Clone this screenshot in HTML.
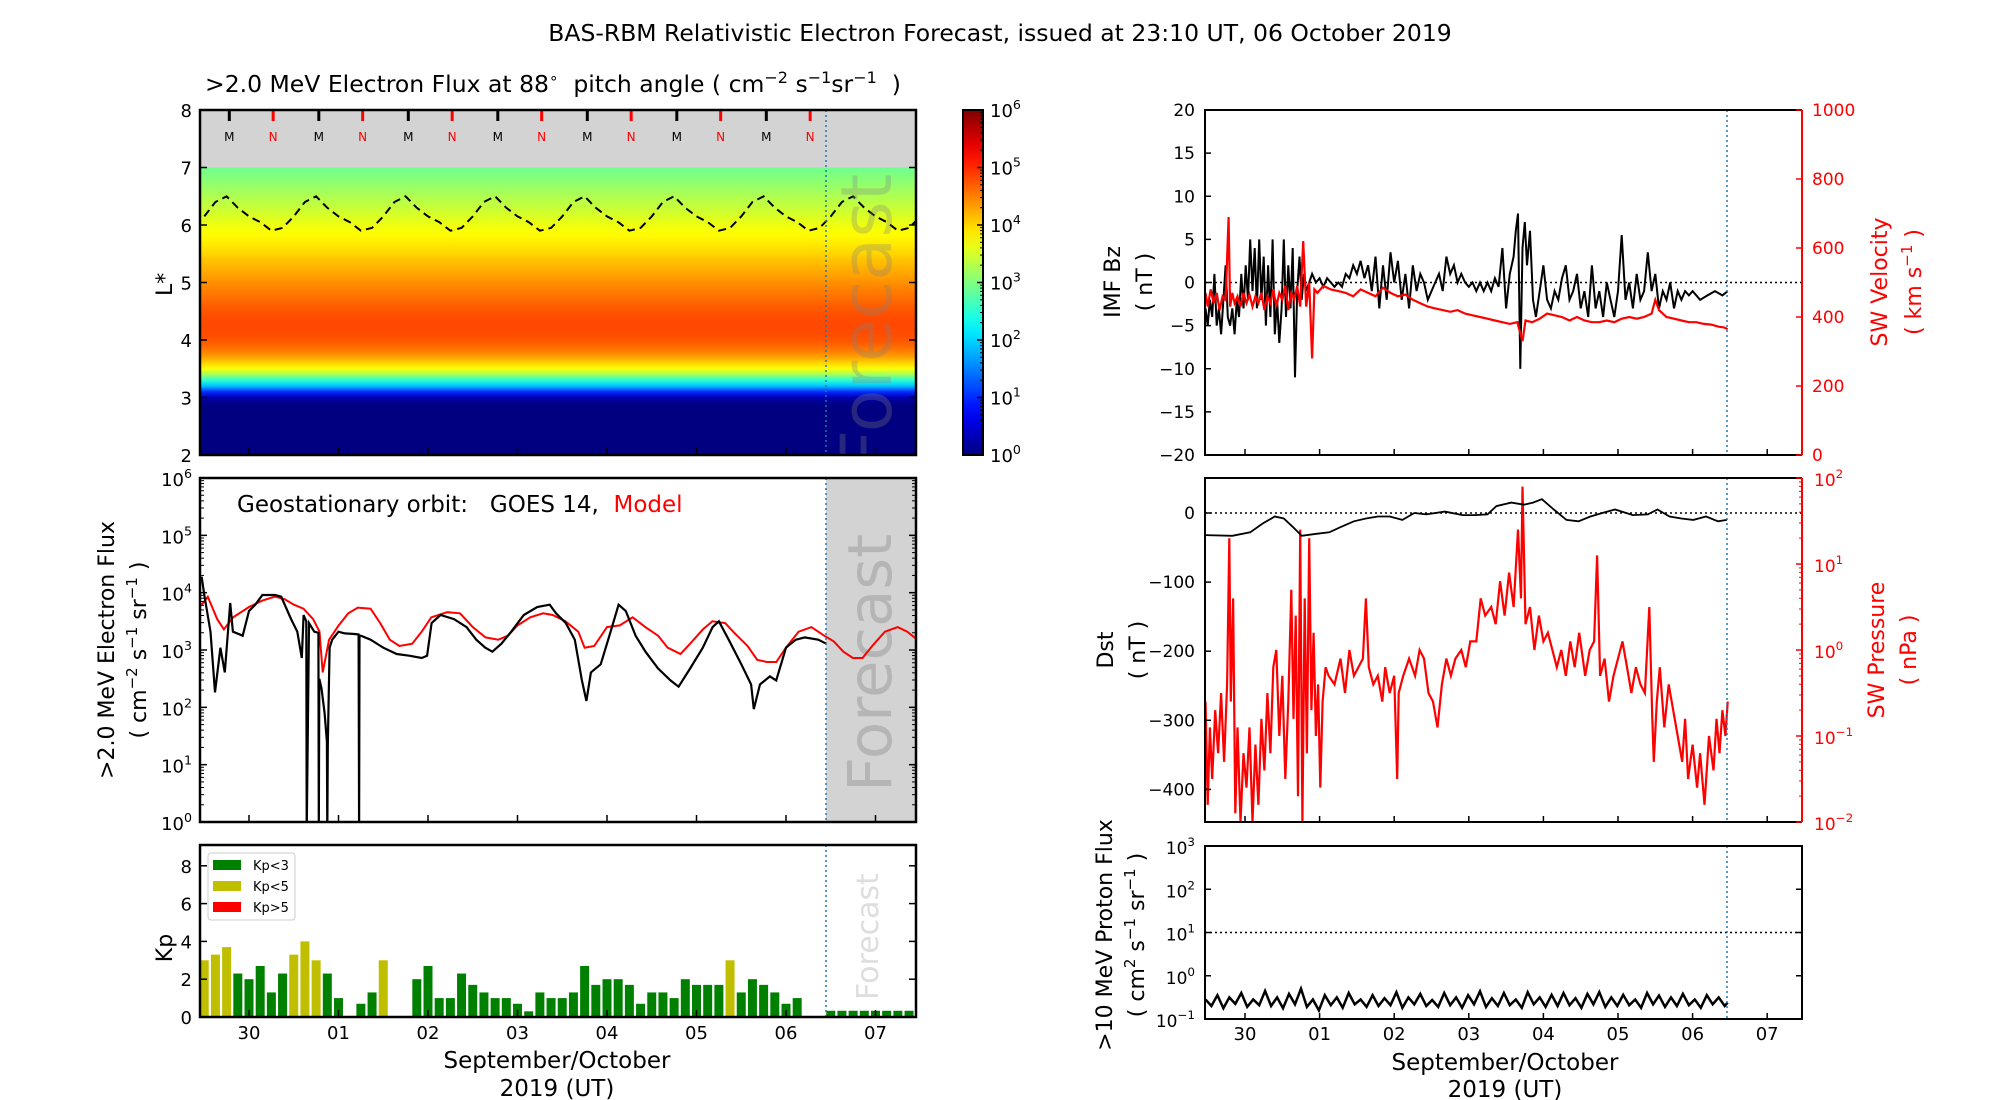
<!DOCTYPE html>
<html><head><meta charset="utf-8">
<style>
html,body{margin:0;padding:0;background:#fff;}
svg{display:block;font-family:"DejaVu Sans","Liberation Sans",sans-serif;}
</style></head>
<body>
<svg id="chart" width="2000" height="1100" viewBox="0 0 2000 1100" xmlns="http://www.w3.org/2000/svg">
<defs>
<linearGradient id="jetbar" x1="0" y1="1" x2="0" y2="0"></linearGradient>
<linearGradient id="heatgrad" x1="0" y1="1" x2="0" y2="0"></linearGradient>
<clipPath id="cHeat"><rect x="200" y="110" width="716" height="345"/></clipPath>
<clipPath id="cFlux"><rect x="200" y="478" width="716" height="344"/></clipPath>
<clipPath id="cKp"><rect x="200" y="845" width="716" height="172"/></clipPath>
<clipPath id="cBz"><rect x="1205" y="110" width="597" height="345"/></clipPath>
<clipPath id="cDst"><rect x="1205" y="478" width="597" height="344"/></clipPath>
<clipPath id="cPr"><rect x="1205" y="846" width="597" height="173"/></clipPath>
</defs>
<g id="root"></g>
</svg>
<script>
// ---------------- data ----------------
const dayTicks = ["30","01","02","03","04","05","06","07"];
const heatL = [2.0,2.1,2.2,2.3,2.4,2.5,2.6,2.7,2.8,2.9,3.0,3.1,3.2,3.3,3.4,3.5,3.6,3.7,3.8,3.9,4.0,4.1,4.2,4.3,4.4,4.5,4.6,4.7,4.8,4.9,5.0,5.1,5.2,5.3,5.4,5.5,5.6,5.7,5.8,5.9,6.0,6.1,6.2,6.3,6.4,6.5,6.6,6.7,6.8,6.9,7.0];
const heatLogFlux = [0,0,0,0,0,0,0,0,0,0.05,0.3,1.0,1.9,2.5,3.2,3.7,4.0,4.3,4.5,4.65,4.75,4.8,4.82,4.82,4.8,4.75,4.7,4.62,4.55,4.48,4.4,4.32,4.25,4.17,4.1,4.0,3.92,3.85,3.78,3.72,3.65,3.58,3.5,3.42,3.35,3.28,3.2,3.12,3.05,2.98,2.9];
const lastT = [-0.5,-0.375,-0.25,-0.125,0,0.125,0.25,0.375,0.5,0.625,0.75,0.875,1,1.125,1.25,1.375,1.5,1.625,1.75,1.875,2,2.125,2.25,2.375,2.5,2.625,2.75,2.875,3,3.125,3.25,3.375,3.5,3.625,3.75,3.875,4,4.125,4.25,4.375,4.5,4.625,4.75,4.875,5,5.125,5.25,5.375,5.5,5.625,5.75,5.875,6,6.125,6.25,6.375,6.5,6.625,6.75,6.875,7,7.125,7.25,7.375,7.5];
const lastL = [6.15,6.4,6.5,6.3,6.15,6.05,5.9,5.95,6.15,6.4,6.5,6.3,6.15,6.05,5.9,5.95,6.15,6.4,6.5,6.3,6.15,6.05,5.9,5.95,6.15,6.4,6.5,6.3,6.15,6.05,5.9,5.95,6.15,6.4,6.5,6.3,6.15,6.05,5.9,5.95,6.15,6.4,6.5,6.3,6.15,6.05,5.9,5.95,6.15,6.4,6.5,6.3,6.15,6.05,5.9,5.95,6.15,6.4,6.5,6.3,6.15,6.05,5.9,5.95,6.15];
const midnightT = [-0.22,0.78,1.78,2.78,3.78,4.78,5.78];
const noonT = [0.27,1.27,2.27,3.27,4.27,5.27,6.27];

const goesT = [-0.53,-0.5,-0.43,-0.38,-0.32,-0.27,-0.21,-0.18,-0.07,0.0,0.07,0.15,0.29,0.36,0.47,0.54,0.59,0.61,0.64,0.645,0.67,0.73,0.775,0.78,0.785,0.81,0.845,0.87,0.875,0.88,0.9,0.93,1.0,1.07,1.18,1.225,1.23,1.235,1.25,1.36,1.5,1.65,1.79,1.93,1.99,2.04,2.14,2.29,2.43,2.54,2.64,2.72,2.82,2.93,3.07,3.22,3.36,3.43,3.54,3.64,3.72,3.77,3.82,3.93,4.04,4.13,4.21,4.32,4.43,4.57,4.71,4.8,4.93,5.07,5.18,5.25,5.36,5.5,5.61,5.64,5.71,5.82,5.89,6.0,6.11,6.21,6.36,6.45];
const goesLog = [4.28,3.96,3.32,2.26,3.04,2.61,3.82,3.32,3.25,3.68,3.79,3.96,3.96,3.93,3.54,3.32,2.86,3.61,3.5,-0.5,3.47,3.32,3.3,-0.5,2.5,2.33,1.9,1.4,-0.5,1.33,3.04,3.18,3.32,3.29,3.28,3.27,-0.5,3.25,3.25,3.18,3.04,2.93,2.9,2.86,2.9,3.47,3.61,3.54,3.4,3.18,3.04,2.97,3.11,3.32,3.61,3.75,3.79,3.64,3.47,3.18,2.47,2.11,2.61,2.75,3.32,3.79,3.68,3.25,2.97,2.68,2.47,2.36,2.68,3.04,3.4,3.5,3.18,2.75,2.4,1.97,2.4,2.54,2.47,3.04,3.18,3.22,3.18,3.11];
const modelT = [-0.53,-0.46,-0.355,-0.28,-0.176,0.0,0.145,0.288,0.395,0.502,0.609,0.716,0.788,0.823,0.895,1.002,1.109,1.216,1.359,1.466,1.573,1.68,1.823,1.93,2.037,2.215,2.358,2.501,2.643,2.786,2.893,3.0,3.143,3.286,3.393,3.536,3.679,3.75,3.857,4.0,4.143,4.286,4.428,4.571,4.678,4.821,4.928,5.071,5.178,5.321,5.428,5.571,5.678,5.785,5.892,5.999,6.141,6.284,6.427,6.534,6.641,6.748,6.855,6.963,7.105,7.248,7.355,7.45];
const modelLog = [3.79,3.93,3.54,3.36,3.57,3.75,3.86,3.93,3.89,3.79,3.72,3.54,3.32,2.61,3.18,3.43,3.64,3.74,3.72,3.47,3.18,3.07,3.11,3.32,3.57,3.66,3.64,3.4,3.22,3.18,3.25,3.43,3.57,3.64,3.61,3.5,3.32,3.04,3.07,3.4,3.43,3.57,3.4,3.25,3.04,2.93,3.11,3.36,3.5,3.47,3.29,3.07,2.83,2.79,2.79,3.04,3.32,3.4,3.25,3.15,2.97,2.86,2.86,3.07,3.32,3.4,3.32,3.2];

const kpValues = [3.0,3.3,3.7,2.3,2.0,2.7,1.3,2.3,3.3,4.0,3.0,2.3,1.0,0,0.7,1.3,3.0,0,0,2.0,2.7,1.0,1.0,2.3,1.7,1.3,1.0,1.0,0.7,0.3,1.3,1.0,1.0,1.3,2.7,1.7,2.0,2.0,1.7,0.7,1.3,1.3,1.0,2.0,1.7,1.7,1.7,3.0,1.3,2.0,1.7,1.3,0.7,1.0,0];
const kpForecast = [0.33,0.33,0.33,0.33,0.33,0.33,0.33,0.33,0.33];
const kpLabels = ["0","2","4","6","8"];

const bzT = [-0.53,-0.5,-0.47,-0.44,-0.41,-0.38,-0.35,-0.32,-0.29,-0.26,-0.23,-0.2,-0.17,-0.14,-0.11,-0.08,-0.05,-0.02,0.01,0.04,0.07,0.1,0.13,0.16,0.19,0.22,0.25,0.28,0.31,0.34,0.37,0.4,0.43,0.46,0.49,0.52,0.55,0.58,0.61,0.64,0.67,0.7,0.73,0.76,0.79,0.82,0.86,0.9,0.95,1.0,1.05,1.1,1.15,1.2,1.25,1.3,1.35,1.4,1.45,1.5,1.55,1.6,1.65,1.7,1.75,1.8,1.85,1.9,1.95,2.0,2.05,2.1,2.15,2.2,2.25,2.3,2.35,2.4,2.45,2.5,2.55,2.6,2.65,2.7,2.75,2.8,2.85,2.9,2.95,3.0,3.05,3.1,3.15,3.2,3.25,3.3,3.35,3.4,3.45,3.5,3.55,3.6,3.63,3.66,3.69,3.72,3.75,3.78,3.82,3.86,3.9,3.95,4.0,4.05,4.1,4.15,4.2,4.25,4.3,4.35,4.4,4.45,4.5,4.55,4.6,4.65,4.7,4.75,4.8,4.85,4.9,4.95,5.0,5.05,5.1,5.15,5.2,5.25,5.3,5.35,5.4,5.45,5.5,5.55,5.6,5.65,5.7,5.75,5.8,5.85,5.9,5.95,6.0,6.1,6.2,6.3,6.4,6.47];
const bzV = [-3,-5,-2,-4,1,-5,-3,-6,-2,2,-4,-5,-3,-6,-2,-4,1,-3,2,-2,5,-1,4,-3,5,-2,3,-5,2,-4,5,-6,-2,-7,-3,5,-4,2,-3,4,-11,-1,3,-2,1,-1,0,1,0,0.5,-0.5,0.5,0,-0.5,0,-0.5,1,0.5,2,1,2.5,0.5,2,-1,3,-3,2,-2,3.5,0,2.5,-2,1,-3,2,-1,1,0,-2,-1,0,1,-1,3,1,2,0,1,0,-0.5,0,-1,0,-1,0,-1,0.5,-0.5,4,-3,1,3,6,8,-10,4,7,2,6,-2,-4,-1,2,-2,-3,-1,-2,0.5,2,-2,-1,1,-3,-1,-4,2,-3,-1,-4,0,-2,-4,-1,5.5,-2,0,-3,1,-2,-1,3.5,-1,1,-3,-1,-2,0,-3,-1,-2,-1,-1.5,-1,-2,-1.5,-1,-1.5,-1];
const velT = [-0.53,-0.5,-0.46,-0.42,-0.38,-0.34,-0.3,-0.26,-0.22,-0.2,-0.17,-0.14,-0.1,-0.06,-0.02,0.02,0.06,0.1,0.14,0.18,0.22,0.26,0.3,0.34,0.38,0.42,0.46,0.5,0.54,0.58,0.62,0.66,0.7,0.74,0.78,0.82,0.86,0.9,0.93,0.97,1.05,1.15,1.25,1.35,1.45,1.55,1.65,1.75,1.85,1.95,2.05,2.15,2.25,2.35,2.45,2.55,2.65,2.75,2.85,2.95,3.05,3.15,3.25,3.35,3.45,3.55,3.65,3.72,3.76,3.85,3.95,4.05,4.15,4.25,4.35,4.45,4.55,4.65,4.75,4.85,4.95,5.05,5.15,5.25,5.35,5.45,5.5,5.55,5.65,5.75,5.85,5.95,6.05,6.15,6.25,6.35,6.42,6.47];
const velV = [470,430,480,440,470,420,460,450,690,430,470,440,460,430,470,440,465,430,460,440,470,420,460,440,480,430,470,450,490,420,470,450,490,430,620,430,500,280,480,470,490,480,475,470,460,480,470,460,485,470,460,465,450,440,430,425,420,415,420,410,405,400,395,390,385,380,385,330,390,385,395,410,405,400,390,400,390,385,385,390,385,395,400,395,400,410,450,420,400,395,390,385,385,380,378,372,370,365];

const dstT = [-0.53,-0.17,0.07,0.24,0.4,0.52,0.64,0.76,0.97,1.13,1.29,1.46,1.62,1.78,1.94,2.11,2.27,2.43,2.68,2.92,3.08,3.25,3.37,3.57,3.74,3.86,3.98,4.14,4.31,4.47,4.63,4.79,4.96,5.2,5.4,5.53,5.69,5.85,6.01,6.18,6.34,6.46];
const dstV = [-32,-33,-28,-15,-5,-8,-20,-33,-30,-28,-20,-12,-8,-5,-5,-10,0,-2,2,-3,-3,-2,10,15,12,15,20,5,-10,-12,-5,0,5,-3,-2,5,-5,-8,-10,-5,-12,-10];
const presT = [-0.53,-0.5,-0.47,-0.44,-0.4,-0.36,-0.32,-0.28,-0.24,-0.21,-0.19,-0.16,-0.13,-0.1,-0.06,-0.02,0.02,0.06,0.1,0.14,0.18,0.22,0.26,0.3,0.34,0.38,0.42,0.46,0.5,0.54,0.58,0.62,0.65,0.68,0.71,0.74,0.77,0.8,0.83,0.86,0.89,0.92,0.95,0.98,1.01,1.04,1.08,1.12,1.2,1.28,1.34,1.4,1.46,1.52,1.58,1.62,1.66,1.72,1.78,1.84,1.88,1.94,2.0,2.04,2.06,2.12,2.2,2.28,2.34,2.4,2.46,2.52,2.58,2.64,2.7,2.76,2.82,2.9,2.96,3.02,3.1,3.16,3.22,3.3,3.36,3.42,3.48,3.54,3.6,3.66,3.7,3.72,3.76,3.82,3.88,3.94,4.0,4.06,4.12,4.18,4.24,4.3,4.36,4.42,4.48,4.56,4.62,4.68,4.72,4.76,4.82,4.88,4.94,5.0,5.06,5.12,5.18,5.24,5.3,5.36,5.42,5.46,5.48,5.52,5.56,5.62,5.68,5.74,5.8,5.86,5.9,5.94,6.0,6.06,6.1,6.16,6.22,6.28,6.32,6.36,6.4,6.44,6.47];
const presLog = [-0.6,-1.8,-0.9,-1.5,-0.7,-1.2,-0.5,-1.3,-0.4,1.3,-0.6,0.6,-1.9,-0.9,-2,-1.2,-1.6,-0.9,-2,-1.1,-1.8,-0.8,-1.4,-0.5,-1.2,-0.2,0.0,-1.0,-0.3,-1.5,-0.6,0.7,-0.8,0.4,-1.7,1.4,-2,0.6,-1.2,1.3,-0.7,0.2,-1.0,-0.4,-1.6,-0.6,-0.2,-0.3,-0.4,-0.1,-0.5,0.0,-0.3,-0.2,-0.1,0.6,-0.2,-0.4,-0.3,-0.6,-0.2,-0.5,-0.3,-1.5,-0.5,-0.3,-0.1,-0.3,0.0,-0.1,-0.5,-0.6,-0.9,-0.4,-0.1,-0.3,-0.1,0.0,-0.2,0.1,0.1,0.6,0.4,0.5,0.3,0.8,0.4,0.9,0.5,1.4,0.6,1.9,0.3,0.5,0.0,0.4,0.1,0.2,0.0,-0.2,0.0,-0.3,0.1,-0.2,0.2,-0.3,0.0,0.1,1.1,-0.3,-0.1,-0.6,-0.3,-0.1,0.1,-0.2,-0.5,-0.2,-0.4,-0.5,0.5,-0.8,-1.3,-0.6,-0.2,-0.9,-0.4,-0.7,-1.0,-1.3,-0.8,-1.5,-1.1,-1.6,-1.2,-1.8,-1.0,-1.4,-0.8,-1.2,-0.7,-1.0,-0.6];
const protonT = [-0.53,-0.45,-0.37,-0.29,-0.21,-0.13,-0.05,0.03,0.11,0.19,0.27,0.35,0.43,0.51,0.59,0.67,0.75,0.83,0.91,0.99,1.07,1.15,1.23,1.31,1.39,1.47,1.55,1.63,1.71,1.79,1.87,1.95,2.03,2.11,2.19,2.27,2.35,2.43,2.51,2.59,2.67,2.75,2.83,2.91,2.99,3.07,3.15,3.23,3.31,3.39,3.47,3.55,3.63,3.71,3.79,3.87,3.95,4.03,4.11,4.19,4.27,4.35,4.43,4.51,4.59,4.67,4.75,4.83,4.91,4.99,5.07,5.15,5.23,5.31,5.39,5.47,5.55,5.63,5.71,5.79,5.87,5.95,6.03,6.11,6.19,6.27,6.35,6.43,6.47];
const protonLog = [-0.55,-0.7,-0.45,-0.75,-0.5,-0.65,-0.4,-0.72,-0.55,-0.68,-0.35,-0.7,-0.5,-0.75,-0.42,-0.66,-0.3,-0.72,-0.55,-0.8,-0.45,-0.68,-0.5,-0.74,-0.4,-0.66,-0.55,-0.72,-0.45,-0.7,-0.52,-0.68,-0.38,-0.74,-0.5,-0.66,-0.42,-0.7,-0.56,-0.72,-0.4,-0.68,-0.5,-0.74,-0.45,-0.66,-0.36,-0.72,-0.52,-0.7,-0.4,-0.68,-0.55,-0.74,-0.38,-0.66,-0.5,-0.72,-0.44,-0.7,-0.4,-0.68,-0.52,-0.74,-0.42,-0.66,-0.38,-0.72,-0.5,-0.7,-0.44,-0.68,-0.55,-0.74,-0.4,-0.66,-0.46,-0.72,-0.5,-0.7,-0.42,-0.68,-0.55,-0.74,-0.45,-0.66,-0.5,-0.7,-0.62];
const bzTicks = [-20,-15,-10,-5,0,5,10,15,20];
const velTicks = [0,200,400,600,800,1000];
const dstTicks = [-400,-300,-200,-100,0];
const lTicks = [2,3,4,5,6,7,8];

// ---------------- axis functions ----------------
const xL = t => 249 + t*89.5;
const xR = t => 1245 + t*74.6;
const yHeat = L => 455 - (L-2)*57.5;
const yFlux = v => 822 - Math.max(v,-0.2)*57.33;
const yKp = k => 1017 - k*18.9;
const yBz = b => 282.5 - b*8.625;
const yVel = v => 455 - v*0.345;
const yDst = d => 513 - d*0.691;
const yPres = l => 478 + (2-l)*86;
const yProt = l => 1019 - (l+1)*43.25;
function jet(v){v=Math.max(0,Math.min(1,v));const c=x=>Math.round(255*Math.max(0,Math.min(1,1.5-Math.abs(x))));return `rgb(${c(4*v-3)},${c(4*v-2)},${c(4*v-1)})`;}

const NS="http://www.w3.org/2000/svg";
const root=document.getElementById('root');
function mk(tag,attrs,parent){const e=document.createElementNS(NS,tag);for(const k in attrs)e.setAttribute(k,attrs[k]);(parent||root).appendChild(e);return e;}
function pathD(xs,ys,fx,fy){return xs.map((t,i)=>(i?'L':'M')+fx(t).toFixed(1)+','+fy(ys[i]).toFixed(1)).join('');}
function txt(x,y,s,attrs,parent){const e=mk('text',Object.assign({x:x,y:y},attrs||{}),parent);e.textContent=s;return e;}
function pow10(x,y,exp,anchor,fill,size,parent){
  const e=mk('text',{x:x,y:y,'text-anchor':anchor||'end','font-size':size||17,fill:fill||'#000'},parent);
  const a=document.createElementNS(NS,'tspan');a.textContent='10';e.appendChild(a);
  const b=document.createElementNS(NS,'tspan');b.setAttribute('dy','-8');b.setAttribute('font-size',(size||17)*0.7);b.textContent=exp;e.appendChild(b);
  return e;
}

// ---------- title ----------
let e;
e=txt(1000,41,'BAS-RBM Relativistic Electron Forecast, issued at 23:10 UT, 06 October 2019',{'text-anchor':'middle','font-size':23.5});



// ---------- heatmap panel ----------
const gH=mk('g',{});


const hg=document.getElementById('heatgrad');
hg.setAttribute('gradientUnits','userSpaceOnUse');hg.setAttribute('x1','0');hg.setAttribute('x2','0');hg.setAttribute('y1',yHeat(2));hg.setAttribute('y2',yHeat(7));
heatL.forEach((L,i)=>{const s=document.createElementNS(NS,'stop');s.setAttribute('offset',((L-2)/5).toFixed(3));s.setAttribute('stop-color',jet(heatLogFlux[i]/6));hg.appendChild(s);});
e=mk('rect',{x:200,y:yHeat(7),width:716,height:yHeat(2)-yHeat(7),fill:'url(#heatgrad)'},gH);


e=mk('rect',{x:200,y:110,width:716,height:yHeat(7)-110,fill:'#d3d3d3'},gH);


e=mk('path',{d:pathD(lastT,lastL,xL,yHeat),fill:'none',stroke:'#000','stroke-width':2,'stroke-dasharray':'8,5','clip-path':'url(#cHeat)'},gH);


midnightT.forEach(t=>{
  const m=mk('line',{x1:xL(t),x2:xL(t),y1:111,y2:121,stroke:'#000','stroke-width':3},gH);
  
  
  const l=txt(xL(t),141,'M',{'text-anchor':'middle','font-size':12},gH);
  
  
});
noonT.forEach(t=>{
  const m=mk('line',{x1:xL(t),x2:xL(t),y1:111,y2:121,stroke:'#f00','stroke-width':3},gH);
  
  
  const l=txt(xL(t),141,'N',{'text-anchor':'middle','font-size':12,fill:'#f00'},gH);
  
  
});
const gHw=mk('g',{'clip-path':'url(#cHeat)'},gH);
e=txt(0,0,'Forecast',{transform:'translate(891,470) rotate(-90)','font-size':70,fill:'#808080','fill-opacity':0.3},gHw);


e=mk('line',{x1:826,x2:826,y1:110,y2:455,stroke:'#1f77b4','stroke-width':1.5,'stroke-dasharray':'2,3'},gH);


e=mk('rect',{x:200,y:110,width:716,height:345,fill:'none',stroke:'#000','stroke-width':2.5},gH);


lTicks.forEach(L=>{
  const t=txt(192,yHeat(L)+7,String(L),{'text-anchor':'end','font-size':18},gH);
  
  
  mk('line',{x1:200,x2:207,y1:yHeat(L),y2:yHeat(L),stroke:'#000','stroke-width':1.5},gH);
  mk('line',{x1:909,x2:916,y1:yHeat(L),y2:yHeat(L),stroke:'#000','stroke-width':1.5},gH);
});
dayTicks.forEach((d,i)=>{mk('line',{x1:xL(i),x2:xL(i),y1:448,y2:455,stroke:'#000','stroke-width':1.5},gH);});
e=txt(0,0,'L*',{transform:'translate(172,296) rotate(-90)','font-size':22},gH);


e=mk('text',{x:205,y:92,'font-size':23.5},gH);
e.innerHTML='&gt;2.0 MeV Electron Flux at 88<tspan dy="-9" font-size="15">∘</tspan><tspan dy="9">  pitch angle ( cm</tspan><tspan dy="-9" font-size="16">−2</tspan><tspan dy="9"> s</tspan><tspan dy="-9" font-size="16">−1</tspan><tspan dy="9">sr</tspan><tspan dy="-9" font-size="16">−1</tspan><tspan dy="9">  )</tspan>';
e.setAttribute('style','white-space:pre');



// colorbar
const gC=mk('g',{});


const jb=document.getElementById('jetbar');
for(let i=0;i<=20;i++){const s=document.createElementNS(NS,'stop');s.setAttribute('offset',i/20);s.setAttribute('stop-color',jet(i/20));jb.appendChild(s);}
mk('rect',{x:963,y:110,width:20,height:345,fill:'url(#jetbar)',stroke:'#000','stroke-width':2},gC);
for(let k=0;k<=6;k++){
  const y=455-k*57.5;
  mk('line',{x1:977,x2:983,y1:y,y2:y,stroke:'#000','stroke-width':1.5},gC);
  const t=pow10(990,y+7,String(k),'start','#000',18,gC);
  
  
  if(k<6) for(let m=2;m<10;m++){const ym=y-Math.log10(m)*57.5;mk('line',{x1:980,x2:983,y1:ym,y2:ym,stroke:'#000','stroke-width':1},gC);}
}

// ---------- GEO flux panel ----------
const gF=mk('g',{});


e=mk('rect',{x:826,y:478,width:90,height:344,fill:'#d3d3d3'},gF);


const gFw=mk('g',{'clip-path':'url(#cFlux)'},gF);
e=txt(0,0,'Forecast',{transform:'translate(891,792) rotate(-90)','font-size':61,fill:'#b5b5b5'},gFw);


e=mk('path',{d:pathD(modelT,modelLog,xL,yFlux),fill:'none',stroke:'#f00','stroke-width':2,'clip-path':'url(#cFlux)'},gF);


e=mk('path',{d:pathD(goesT,goesLog,xL,yFlux),fill:'none',stroke:'#000','stroke-width':2.2,'clip-path':'url(#cFlux)'},gF);


e=mk('line',{x1:826,x2:826,y1:478,y2:822,stroke:'#1f77b4','stroke-width':1.5,'stroke-dasharray':'2,3'},gF);


mk('rect',{x:200,y:478,width:716,height:344,fill:'none',stroke:'#000','stroke-width':2.5},gF);
for(let k=0;k<=6;k++){
  const y=yFlux(k);
  const t=pow10(192,y+8,String(k),'end','#000',18,gF);
  
  
  mk('line',{x1:200,x2:207,y1:y,y2:y,stroke:'#000','stroke-width':1.5},gF);
  mk('line',{x1:909,x2:916,y1:y,y2:y,stroke:'#000','stroke-width':1.5},gF);
  if(k<6) for(let m=2;m<10;m++){const ym=y-Math.log10(m)*57.33;mk('line',{x1:200,x2:204,y1:ym,y2:ym,stroke:'#000','stroke-width':1},gF);mk('line',{x1:912,x2:916,y1:ym,y2:ym,stroke:'#000','stroke-width':1},gF);}
}
dayTicks.forEach((d,i)=>{mk('line',{x1:xL(i),x2:xL(i),y1:815,y2:822,stroke:'#000','stroke-width':1.5},gF);});
e=mk('text',{x:237,y:512,'font-size':23,style:'white-space:pre'},gF);
e.innerHTML='Geostationary orbit:   GOES 14,  <tspan fill="#f00">Model</tspan>';


e=txt(0,0,'>2.0 MeV Electron Flux',{transform:'translate(114,650) rotate(-90)','text-anchor':'middle','font-size':22},gF);


e=mk('text',{transform:'translate(146,650) rotate(-90)','text-anchor':'middle','font-size':22},gF);
e.innerHTML='( cm<tspan dy="-9" font-size="15">−2</tspan><tspan dy="9"> s</tspan><tspan dy="-9" font-size="15">−1</tspan><tspan dy="9"> sr</tspan><tspan dy="-9" font-size="15">−1</tspan><tspan dy="9"> )</tspan>';



// ---------- Kp panel ----------
const gK=mk('g',{});


e=txt(0,0,'Forecast',{transform:'translate(878,1000) rotate(-90)','font-size':30,fill:'#dedede'},gK);


const kpColor=k=>k<3?'#008000':(k<5?'#bfbf00':'#f00');
kpValues.forEach((k,i)=>{
  if(k<=0) return;
  const t0=-0.5+i*0.125;
  const b=mk('rect',{x:xL(t0)-4.5,y:yKp(k),width:9,height:yKp(0)-yKp(k),fill:kpColor(k),'clip-path':'url(#cKp)'},gK);
  
  
});
kpForecast.forEach((k,i)=>{
  const t0=6.5+i*0.125;
  const b=mk('rect',{x:xL(t0)-4.5,y:yKp(k),width:9,height:yKp(0)-yKp(k),fill:kpColor(k),'clip-path':'url(#cKp)'},gK);
  
  
});
e=mk('line',{x1:826,x2:826,y1:845,y2:1017,stroke:'#1f77b4','stroke-width':1.5,'stroke-dasharray':'2,3'},gK);


mk('rect',{x:200,y:845,width:716,height:172,fill:'none',stroke:'#000','stroke-width':2.5},gK);
kpLabels.forEach(s=>{
  const k=+s;
  const t=txt(192,yKp(k)+7,s,{'text-anchor':'end','font-size':18},gK);
  
  
  mk('line',{x1:200,x2:207,y1:yKp(k),y2:yKp(k),stroke:'#000','stroke-width':1.5},gK);
  mk('line',{x1:909,x2:916,y1:yKp(k),y2:yKp(k),stroke:'#000','stroke-width':1.5},gK);
});
dayTicks.forEach((d,i)=>{
  mk('line',{x1:xL(i),x2:xL(i),y1:1010,y2:1017,stroke:'#000','stroke-width':1.5},gK);
  const t=txt(xL(i),1039,d,{'text-anchor':'middle','font-size':18},gK);
  
  
});
e=txt(0,0,'Kp',{transform:'translate(172,948) rotate(-90)','text-anchor':'middle','font-size':22},gK);


const gLeg=mk('g',{},gK);


mk('rect',{x:208,y:853,width:87,height:67,fill:'#fff',stroke:'#ccc','stroke-width':1,rx:3},gLeg);
[['Kp<3','#008000',865],['Kp<5','#bfbf00',886],['Kp>5','#f00',907]].forEach(a=>{
  const p=mk('rect',{x:213,y:a[2]-5,width:28,height:10,fill:a[1]},gLeg);
  
  
  const t=txt(253,a[2]+5,a[0],{'font-size':13},gLeg);
  
  
});
e=txt(557,1068,'September/October',{'text-anchor':'middle','font-size':23});


e=txt(557,1096,'2019 (UT)',{'text-anchor':'middle','font-size':23});



// ---------- Bz / velocity panel ----------
const gB=mk('g',{});


e=mk('line',{x1:1205,x2:1802,y1:yBz(0),y2:yBz(0),stroke:'#000','stroke-width':1.5,'stroke-dasharray':'2,3'},gB);


e=mk('path',{d:pathD(bzT,bzV,xR,yBz),fill:'none',stroke:'#000','stroke-width':2,'clip-path':'url(#cBz)'},gB);


e=mk('path',{d:pathD(velT,velV,xR,yVel),fill:'none',stroke:'#f00','stroke-width':2.2,'clip-path':'url(#cBz)'},gB);


mk('line',{x1:1727,x2:1727,y1:110,y2:455,stroke:'#1f77b4','stroke-width':1.5,'stroke-dasharray':'2,3'},gB);
mk('path',{d:'M1802,110 L1205,110 L1205,455 L1802,455',fill:'none',stroke:'#000','stroke-width':2},gB);
mk('line',{x1:1802,x2:1802,y1:110,y2:455,stroke:'#f00','stroke-width':2},gB);
bzTicks.forEach(b=>{
  const t=txt(1195,yBz(b)+6,String(b).replace('-','−'),{'text-anchor':'end','font-size':17},gB);
  
  
  mk('line',{x1:1205,x2:1211,y1:yBz(b),y2:yBz(b),stroke:'#000','stroke-width':1.5},gB);
});
velTicks.forEach(v=>{
  const t=txt(1812,yVel(v)+6,String(v),{'font-size':17,fill:'#f00'},gB);
  
  
  mk('line',{x1:1796,x2:1802,y1:yVel(v),y2:yVel(v),stroke:'#f00','stroke-width':1.5},gB);
});
dayTicks.forEach((d,i)=>{mk('line',{x1:xR(i),x2:xR(i),y1:449,y2:455,stroke:'#000','stroke-width':1.5},gB);});
e=txt(0,0,'IMF Bz',{transform:'translate(1120,282) rotate(-90)','text-anchor':'middle','font-size':22},gB);


e=txt(0,0,'( nT )',{transform:'translate(1152,282) rotate(-90)','text-anchor':'middle','font-size':22},gB);


e=txt(0,0,'SW Velocity',{transform:'translate(1887,282) rotate(-90)','text-anchor':'middle','font-size':22,fill:'#f00'},gB);


e=mk('text',{transform:'translate(1921,282) rotate(-90)','text-anchor':'middle','font-size':22,fill:'#f00'},gB);
e.innerHTML='( km s<tspan dy="-9" font-size="15">−1</tspan><tspan dy="9"> )</tspan>';



// ---------- Dst / pressure panel ----------
const gD=mk('g',{});


e=mk('line',{x1:1205,x2:1802,y1:yDst(0),y2:yDst(0),stroke:'#000','stroke-width':1.5,'stroke-dasharray':'2,3'},gD);


e=mk('path',{d:pathD(presT,presLog,xR,yPres),fill:'none',stroke:'#f00','stroke-width':2.2,'clip-path':'url(#cDst)'},gD);


e=mk('path',{d:pathD(dstT,dstV,xR,yDst),fill:'none',stroke:'#000','stroke-width':1.8,'clip-path':'url(#cDst)'},gD);


mk('line',{x1:1727,x2:1727,y1:478,y2:822,stroke:'#1f77b4','stroke-width':1.5,'stroke-dasharray':'2,3'},gD);
mk('path',{d:'M1802,478 L1205,478 L1205,822 L1802,822',fill:'none',stroke:'#000','stroke-width':2},gD);
mk('line',{x1:1802,x2:1802,y1:478,y2:822,stroke:'#f00','stroke-width':2},gD);
dstTicks.forEach(d=>{
  const t=txt(1195,yDst(d)+6,String(d).replace('-','−'),{'text-anchor':'end','font-size':17},gD);
  
  
  mk('line',{x1:1205,x2:1211,y1:yDst(d),y2:yDst(d),stroke:'#000','stroke-width':1.5},gD);
});
for(let k=-2;k<=2;k++){
  const y=yPres(k);
  const t=pow10(1814,y+8,String(k).replace('-','−'),'start','#f00',17,gD);
  
  
  mk('line',{x1:1796,x2:1802,y1:y,y2:y,stroke:'#f00','stroke-width':1.5},gD);
  if(k<2) for(let m=2;m<10;m++){const ym=y-Math.log10(m)*86;mk('line',{x1:1799,x2:1802,y1:ym,y2:ym,stroke:'#f00','stroke-width':1},gD);}
}
dayTicks.forEach((d,i)=>{mk('line',{x1:xR(i),x2:xR(i),y1:816,y2:822,stroke:'#000','stroke-width':1.5},gD);});
e=txt(0,0,'Dst',{transform:'translate(1113,650) rotate(-90)','text-anchor':'middle','font-size':22},gD);


e=txt(0,0,'( nT )',{transform:'translate(1145,650) rotate(-90)','text-anchor':'middle','font-size':22},gD);


e=txt(0,0,'SW Pressure',{transform:'translate(1884,650) rotate(-90)','text-anchor':'middle','font-size':22,fill:'#f00'},gD);


e=txt(0,0,'( nPa )',{transform:'translate(1916,650) rotate(-90)','text-anchor':'middle','font-size':22,fill:'#f00'},gD);



// ---------- proton panel ----------
const gP=mk('g',{});


e=mk('line',{x1:1205,x2:1802,y1:yProt(1),y2:yProt(1),stroke:'#000','stroke-width':1.5,'stroke-dasharray':'2,3'},gP);


e=mk('path',{d:pathD(protonT,protonLog,xR,yProt),fill:'none',stroke:'#000','stroke-width':2.5,'clip-path':'url(#cPr)'},gP);


mk('line',{x1:1727,x2:1727,y1:846,y2:1019,stroke:'#1f77b4','stroke-width':1.5,'stroke-dasharray':'2,3'},gP);
mk('rect',{x:1205,y:846,width:597,height:173,fill:'none',stroke:'#000','stroke-width':2},gP);
for(let k=-1;k<=3;k++){
  const y=yProt(k);
  const t=pow10(1195,y+8,String(k).replace('-','−'),'end','#000',17,gP);
  
  
  mk('line',{x1:1205,x2:1211,y1:y,y2:y,stroke:'#000','stroke-width':1.5},gP);
  mk('line',{x1:1796,x2:1802,y1:y,y2:y,stroke:'#000','stroke-width':1.5},gP);
}
dayTicks.forEach((d,i)=>{
  mk('line',{x1:xR(i),x2:xR(i),y1:1013,y2:1019,stroke:'#000','stroke-width':1.5},gP);
  const t=txt(xR(i),1040,d,{'text-anchor':'middle','font-size':18},gP);
  
  
});
e=txt(0,0,'>10 MeV Proton Flux',{transform:'translate(1112,935) rotate(-90)','text-anchor':'middle','font-size':22},gP);


e=mk('text',{transform:'translate(1144,935) rotate(-90)','text-anchor':'middle','font-size':22},gP);
e.innerHTML='( cm<tspan dy="-9" font-size="15">2</tspan><tspan dy="9"> s</tspan><tspan dy="-9" font-size="15">−1</tspan><tspan dy="9"> sr</tspan><tspan dy="-9" font-size="15">−1</tspan><tspan dy="9"> )</tspan>';


e=txt(1505,1070,'September/October',{'text-anchor':'middle','font-size':23});


e=txt(1505,1097,'2019 (UT)',{'text-anchor':'middle','font-size':23});


</script>
</body></html>
